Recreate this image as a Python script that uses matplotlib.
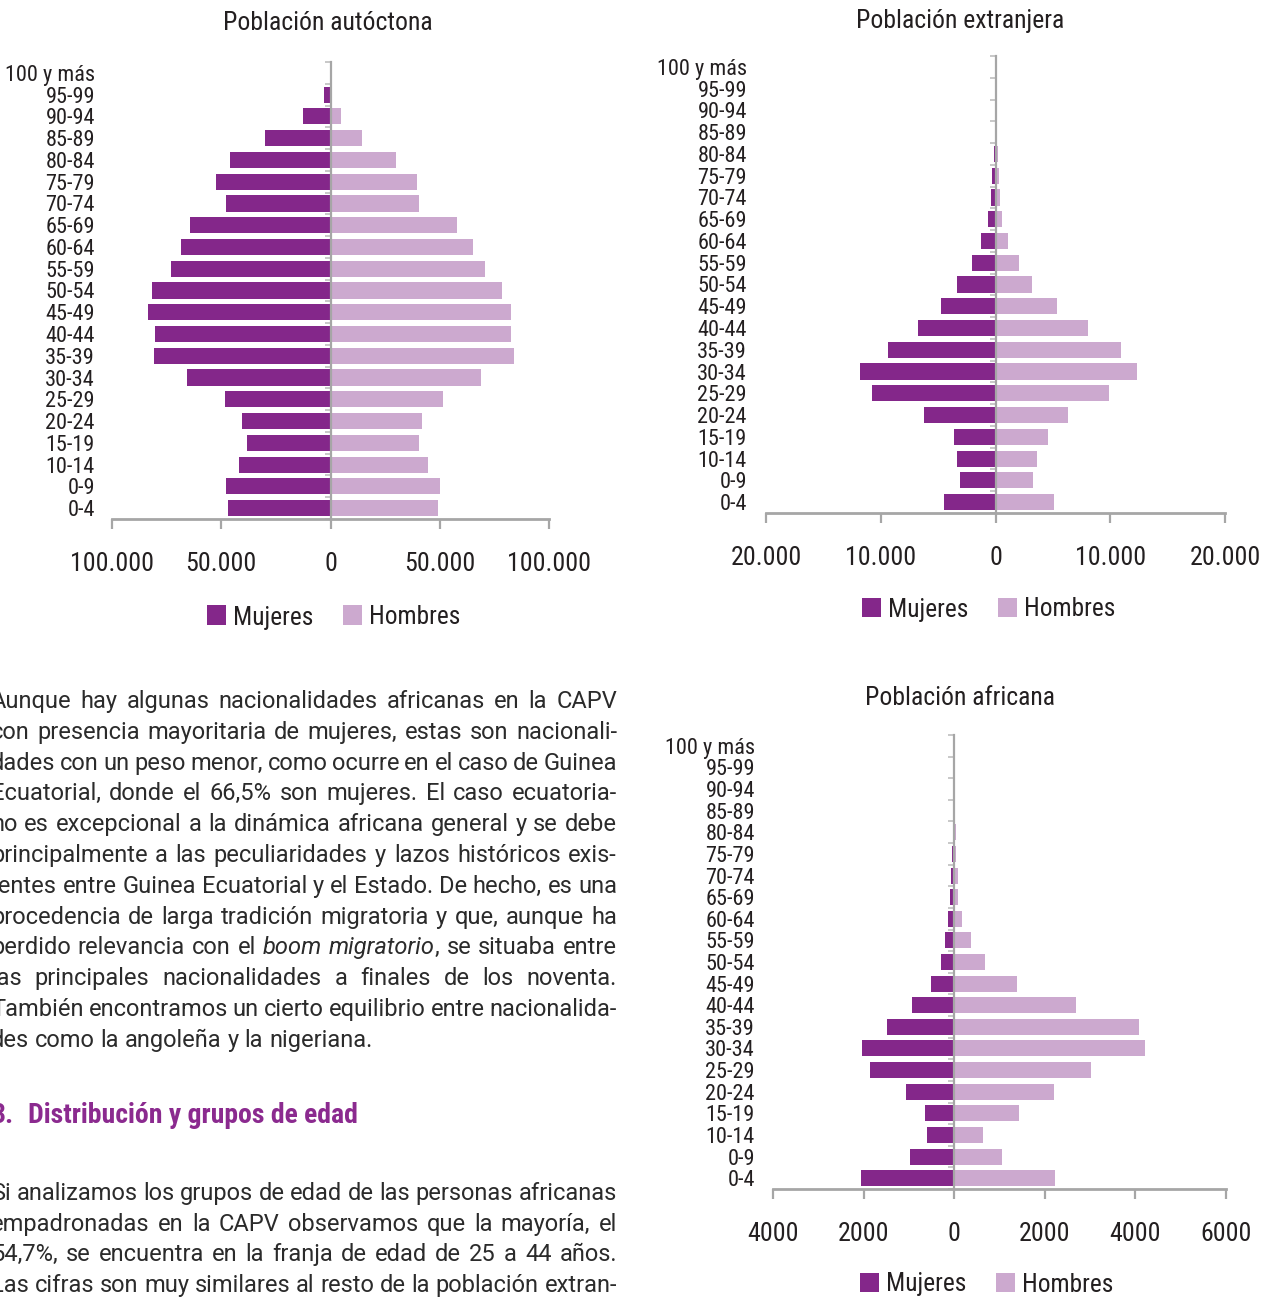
import matplotlib
matplotlib.use('Agg')
import matplotlib.pyplot as plt
from matplotlib import transforms
from matplotlib import font_manager as fm
from matplotlib.patches import Rectangle
import numpy as np

W, H = 1273, 1297
DPI = 100

# ---------------- data ----------------
age_groups = ["0-4", "0-9", "10-14", "15-19", "20-24", "25-29", "30-34", "35-39",
              "40-44", "45-49", "50-54", "55-59", "60-64", "65-69", "70-74",
              "75-79", "80-84", "85-89", "90-94", "95-99", "100 y más"]

aut_mujeres = [47100, 47600, 42100, 38400, 40300, 48500, 65500, 80600, 80100, 83300,
               81500, 73200, 68200, 64100, 47600, 52600, 46200, 29800, 12400, 3200, 300]
aut_hombres = [49400, 50300, 44400, 40700, 42100, 51300, 68700, 84200, 82800, 82800,
               78700, 70500, 65000, 57700, 40700, 39400, 29800, 14200, 4600, 600, 700]

ext_mujeres = [4470, 3060, 3340, 3590, 6230, 10740, 11790, 9370, 6720, 4720,
               3340, 2040, 1230, 630, 390, 280, 110, 20, 10, 10, 10]
ext_hombres = [5140, 3270, 3630, 4610, 6340, 9930, 12360, 10950, 8100, 5390,
               3200, 2080, 1130, 600, 420, 320, 210, 80, 60, 50, 50]

afr_mujeres = [2050, 970, 600, 640, 1060, 1860, 2040, 1480, 930, 510,
               300, 200, 130, 90, 60, 45, 10, 0, 0, 0, 0]
afr_hombres = [2230, 1060, 640, 1440, 2200, 3010, 4220, 4070, 2680, 1380,
               670, 360, 180, 90, 90, 35, 35, 0, 0, 0, 0]

aut_ticks = [-100000, -50000, 0, 50000, 100000]
ext_ticks = [-20000, -10000, 0, 10000, 20000]
afr_ticks = [-4000, -2000, 0, 2000, 4000, 6000]

titles = ["Población autóctona", "Población extranjera", "Población africana"]
legend_labels = ["Mujeres", "Hombres"]

para1 = [
    "Aunque hay algunas nacionalidades africanas en la CAPV",
    "con presencia mayoritaria de mujeres, estas son nacionali-",
    "dades con un peso menor, como ocurre en el caso de Guinea",
    "Ecuatorial, donde el 66,5% son mujeres. El caso ecuatoria-",
    "no es excepcional a la dinámica africana general y se debe",
    "principalmente a las peculiaridades y lazos históricos exis-",
    "tentes entre Guinea Ecuatorial y el Estado. De hecho, es una",
    "procedencia de larga tradición migratoria y que, aunque ha",
    "perdido relevancia con el *boom* *migratorio*, se situaba entre",
    "las principales nacionalidades a finales de los noventa.",
    "También encontramos un cierto equilibrio entre nacionalida-",
    "des como la angoleña y la nigeriana.",
]
heading_num = "3."
heading_text = "Distribución y grupos de edad"
para2 = [
    "Si analizamos los grupos de edad de las personas africanas",
    "empadronadas en la CAPV observamos que la mayoría, el",
    "54,7%, se encuentra en la franja de edad de 25 a 44 años.",
    "Las cifras son muy similares al resto de la población extran-",
]

# ---------------- style ----------------
DARK = '#84278a'
LIGHT = '#cca9cf'
GRAY = '#a6a6a6'
TXT = '#231f20'
HEAD = '#8b2a8f'

_available = {f.name for f in fm.fontManager.ttflist}


def pick(cands):
    for c in cands:
        if c in _available:
            return c
    return 'DejaVu Sans'


CHART_FAM = pick(['Roboto Condensed', 'Archivo Narrow', 'PT Sans Narrow',
                  'Liberation Sans Narrow', 'Lato', 'Roboto'])
CHART_FONT = [CHART_FAM, 'DejaVu Sans']
HEAD_FONT = CHART_FONT
BODY_FONT = [pick(['Roboto', 'Lato', 'Liberation Sans']), 'DejaVu Sans']

fig = plt.figure(figsize=(W / DPI, H / DPI), dpi=DPI)
fig.patch.set_facecolor('white')
renderer = fig.canvas.get_renderer()


def fx(x):
    return x / W


def fy(y):
    return 1 - y / H


def measure(txt, size, **kw):
    t = fig.text(0, 0, txt, fontsize=size, **kw)
    w = t.get_window_extent(renderer).width
    t.remove()
    return w


def fit(txt, target, cap, **kw):
    s = 20 * target / measure(txt, 20, **kw)
    return min(s, cap)


CW = 'normal'
TITLE_SIZE = fit("Población autóctona", 209, 21, family=CHART_FONT, weight=CW)
YLAB_SIZE = fit("95-99", 50, 16, family=CHART_FONT, weight=CW)
TICK_SIZE = fit("100.000", 84, 21, family=CHART_FONT, weight=CW)
LEG_SIZE = fit("Mujeres", 80, 21, family=CHART_FONT, weight=CW)


def fmt_dot(v):
    return f"{abs(v):,}".replace(',', '.')


def fmt_plain(v):
    return str(abs(v))


def pyramid(left, right, top, bottom, mujeres, hombres, ticks, fmt, title,
            title_xy, label_right, legend_x, legend_y):
    ax = fig.add_axes([fx(left), fy(bottom), (right - left) / W, (bottom - top) / H])
    y = np.arange(len(age_groups))
    ax.barh(y, -np.array(mujeres), height=0.74, color=DARK, zorder=1)
    ax.barh(y, np.array(hombres), height=0.74, color=LIGHT, zorder=1)
    ax.set_xlim(ticks[0], ticks[-1])
    ax.set_ylim(-0.5, len(age_groups) - 0.5)
    for s in ['top', 'right']:
        ax.spines[s].set_visible(False)
    ax.spines['left'].set_position(('data', 0))
    ax.spines['left'].set_color(GRAY)
    ax.spines['left'].set_linewidth(1.6)
    ax.spines['left'].set_zorder(3)
    ax.spines['bottom'].set_color(GRAY)
    ax.spines['bottom'].set_linewidth(2)
    ax.set_yticks(np.arange(-0.5, len(age_groups), 1.0))
    ax.set_yticklabels([])
    ax.tick_params(axis='y', direction='out', length=4, width=1.2, color='#bfbfbf')
    ax.set_xticks(ticks)
    ax.set_xticklabels([fmt(t) for t in ticks], family=CHART_FONT, weight=CW,
                       fontsize=TICK_SIZE, color=TXT)
    ax.tick_params(axis='x', direction='out', length=7, width=1.6, color=GRAY, pad=17)
    ax.set_facecolor('none')
    trans = transforms.blended_transform_factory(fig.transFigure, ax.transData)
    for i, lab in enumerate(age_groups):
        ax.text(fx(label_right), i, lab, transform=trans, ha='right',
                va='center_baseline', family=CHART_FONT, weight=CW,
                fontsize=YLAB_SIZE, color=TXT, clip_on=False)
    fig.text(fx(title_xy[0]), fy(title_xy[1]), title, ha='center', va='center',
             family=CHART_FONT, weight=CW, fontsize=TITLE_SIZE, color=TXT)
    sq = 19
    for col, lab, xs in [(DARK, legend_labels[0], legend_x),
                         (LIGHT, legend_labels[1], legend_x + 136)]:
        fig.add_artist(Rectangle((fx(xs), fy(legend_y + sq / 2)), sq / W, sq / H,
                                 transform=fig.transFigure, color=col, lw=0))
        fig.text(fx(xs + sq + 7), fy(legend_y), lab, ha='left', va='center_baseline',
                 family=CHART_FONT, weight=CW, fontsize=LEG_SIZE, color=TXT)
    return ax


pyramid(112, 549, 62, 519, aut_mujeres, aut_hombres, aut_ticks, fmt_dot, titles[0],
        (328, 23), 95, 207, 615)
pyramid(766, 1225, 56, 513, ext_mujeres, ext_hombres, ext_ticks, fmt_dot, titles[1],
        (960, 21), 747, 862, 607)
pyramid(773, 1226, 735, 1189, afr_mujeres, afr_hombres, afr_ticks, fmt_plain, titles[2],
        (960, 698), 755, 860, 1282)

# ---------------- body text ----------------
BW = 'normal'
BODY_SIZE = fit("des como la angoleña y la nigeriana.", 381, 18, family=BODY_FONT, weight=BW)
HEAD_SIZE = fit(heading_text, 329, 22, family=HEAD_FONT, weight='bold')


def parse_word(w):
    segs = []
    if w.startswith('*'):
        end = w.index('*', 1)
        segs.append((w[1:end], True))
        rest = w[end + 1:]
        if rest:
            segs.append((rest, False))
    else:
        segs.append((w, False))
    return segs


X0, X1 = -9, 617


def seg_w(s, it):
    return measure(s, BODY_SIZE, family=BODY_FONT, weight=BW,
                   style='italic' if it else 'normal')


def draw_line(line, baseline, justify):
    words = [parse_word(w) for w in line.split(' ')]
    widths = [[seg_w(s, it) for s, it in segs] for segs in words]
    totals = [sum(ws) for ws in widths]
    if justify and len(words) > 1:
        gap = (X1 - X0 - sum(totals)) / (len(words) - 1)
    else:
        gap = seg_w('a a', False) - 2 * seg_w('a', False)
    x = X0
    for segs, ws in zip(words, widths):
        for (s, it), w in zip(segs, ws):
            fig.text(fx(x), fy(baseline), s, ha='left', va='baseline', fontsize=BODY_SIZE,
                     family=BODY_FONT, weight=BW, style='italic' if it else 'normal',
                     color='#2b2b2b')
            x += w
        x += gap


for i, line in enumerate(para1):
    draw_line(line, 708 + i * 30.8, justify=(i < len(para1) - 1))

fig.text(fx(-9), fy(1123), heading_num, ha='left', va='baseline', fontsize=HEAD_SIZE,
         family=HEAD_FONT, weight='bold', color=HEAD)
fig.text(fx(28), fy(1123), heading_text, ha='left', va='baseline', fontsize=HEAD_SIZE,
         family=HEAD_FONT, weight='bold', color=HEAD)

for i, line in enumerate(para2):
    draw_line(line, 1200 + i * 30.6, justify=True)

fig.savefig('out.png', dpi=DPI, facecolor='white')
